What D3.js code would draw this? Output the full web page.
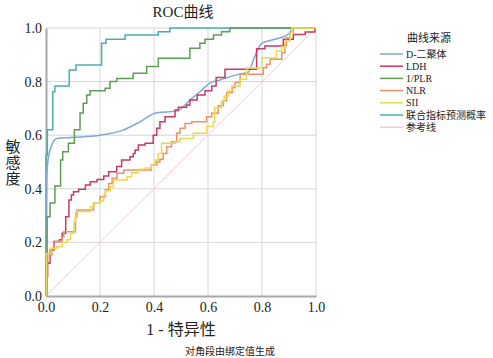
<!DOCTYPE html>
<html>
<head>
  <title>ROC曲线</title>
  <meta http-equiv="Content-Type" content="text/html; charset=UTF-8">
  <script src="https://d3js.org/d3.v7.min.js"></script>
  <style>
    body { margin: 0; background: #fff; }
    text { font-family: "Liberation Serif", "Noto Sans CJK SC", serif; fill: #222; }
    .grid line { stroke: #d6d6d6; stroke-width: 1px; }
    .curve { fill: none; stroke-width: 1.5px; }
  </style>
</head>
<body>
  <div id="chart"></div>
  <script>
    // chart data: [1 - specificity, sensitivity] points
    var seriesNames = ["D-二聚体", "LDH", "1/PLR", "NLR", "SII", "联合指标预测概率", "参考线"];
    var seriesColors = ["#7fa8d8", "#c73a62", "#5f9c58", "#ee9168", "#e6da4e", "#45b1ae", "#f6c8d3"];

    var ddimer = [[0,0],[0.001,0.3],[0.003,0.45],[0.008,0.51],[0.02,0.56],[0.04,0.588],[0.101,0.592],[0.2,0.6],
      [0.286,0.619],[0.348,0.65],[0.41,0.684],[0.484,0.69],[0.533,0.731],[0.57,0.762],[0.607,0.794],[0.644,0.806],
      [0.712,0.827],[0.749,0.835],[0.774,0.896],[0.799,0.943],[0.848,0.958],[0.897,0.976],[0.916,1],[1,1]];

    var ldh = [[0,0],[0.003,0.072],[0.006,0.122],[0.015,0.172],[0.03,0.203],[0.05,0.21],[0.06,0.234],[0.073,0.296],
      [0.085,0.358],[0.094,0.377],[0.102,0.389],[0.121,0.398],[0.146,0.414],[0.164,0.426],[0.189,0.435],[0.214,0.448],
      [0.232,0.464],[0.262,0.483],[0.28,0.507],[0.311,0.52],[0.323,0.532],[0.33,0.545],[0.342,0.563],[0.367,0.57],
      [0.397,0.6],[0.41,0.626],[0.422,0.65],[0.441,0.669],[0.478,0.694],[0.49,0.704],[0.521,0.713],[0.533,0.731],
      [0.56,0.75],[0.589,0.766],[0.614,0.784],[0.63,0.815],[0.663,0.846],[0.78,0.923],[0.811,0.933],[0.879,0.958],
      [0.916,0.976],[0.96,0.985],[0.996,1],[1,1]];

    var plr = [[0,0],[0.004,0.296],[0.015,0.347],[0.033,0.41],[0.054,0.507],[0.062,0.538],[0.083,0.57],[0.105,0.62],
      [0.126,0.683],[0.138,0.719],[0.151,0.75],[0.163,0.766],[0.219,0.775],[0.237,0.8],[0.262,0.812],[0.323,0.831],
      [0.373,0.856],[0.416,0.887],[0.533,0.924],[0.57,0.943],[0.589,0.958],[0.62,0.974],[0.65,0.986],[0.681,1],[1,1]];

    var nlr = [[0,0],[0.003,0.128],[0.012,0.153],[0.022,0.172],[0.028,0.203],[0.059,0.221],[0.066,0.24],[0.109,0.296],
      [0.115,0.321],[0.176,0.346],[0.2,0.37],[0.22,0.396],[0.232,0.42],[0.245,0.439],[0.263,0.458],[0.288,0.47],
      [0.39,0.489],[0.41,0.5],[0.422,0.51],[0.434,0.532],[0.447,0.557],[0.465,0.576],[0.484,0.607],[0.496,0.626],
      [0.515,0.644],[0.54,0.65],[0.595,0.669],[0.614,0.682],[0.638,0.71],[0.657,0.729],[0.669,0.759],[0.69,0.777],
      [0.7,0.797],[0.719,0.827],[0.805,0.852],[0.817,0.865],[0.83,0.883],[0.873,0.908],[0.885,0.933],[0.89,0.964],
      [0.904,0.985],[0.916,1],[1,1]];

    var sii = [[0,0],[0.002,0.159],[0.017,0.178],[0.04,0.184],[0.06,0.2],[0.078,0.21],[0.091,0.234],[0.104,0.277],
      [0.11,0.315],[0.165,0.333],[0.178,0.346],[0.201,0.355],[0.214,0.377],[0.22,0.393],[0.238,0.408],[0.25,0.433],
      [0.3,0.445],[0.317,0.46],[0.342,0.473],[0.367,0.478],[0.39,0.489],[0.404,0.507],[0.416,0.532],[0.428,0.57],
      [0.478,0.576],[0.496,0.588],[0.546,0.607],[0.595,0.632],[0.62,0.65],[0.625,0.703],[0.65,0.728],[0.66,0.746],
      [0.675,0.765],[0.688,0.784],[0.719,0.809],[0.743,0.851],[0.799,0.889],[0.854,0.914],[0.873,0.93],[0.885,0.951],
      [0.904,0.983],[0.91,1],[1,1]];

    var combined = [[0,0],[0,0.526],[0.005,0.62],[0.025,0.762],[0.033,0.784],[0.086,0.843],[0.111,0.862],
      [0.206,0.943],[0.222,0.958],[0.293,0.974],[0.416,0.986],[0.459,1],[1,1]];

    var reference = [[0,0],[1,1]];

    var tickValues = [0, 0.2, 0.4, 0.6, 0.8, 1.0];

    // canvas size and plot box
    var width = 493, height = 358;
    var plot = { left: 46, right: 316, top: 28, bottom: 296 };

    var svg = d3.select("#chart").append("svg")
        .attr("width", width)
        .attr("height", height);

    var x = d3.scaleLinear().domain([0, 1]).range([plot.left, plot.right]);
    var y = d3.scaleLinear().domain([0, 1]).range([plot.bottom, plot.top]);

    // grid lines
    var grid = svg.append("g").attr("class", "grid");
    grid.selectAll(".vx").data(tickValues.slice(1)).enter().append("line")
        .attr("x1", function(d) { return x(d); }).attr("x2", function(d) { return x(d); })
        .attr("y1", y(0)).attr("y2", y(1));
    grid.selectAll(".hy").data(tickValues.slice(1)).enter().append("line")
        .attr("x1", x(0)).attr("x2", x(1))
        .attr("y1", function(d) { return y(d); }).attr("y2", function(d) { return y(d); });

    // axes (labels only, domain drawn as gray lines)
    var xAxis = svg.append("g")
        .attr("transform", "translate(0," + plot.bottom + ")")
        .call(d3.axisBottom(x).tickValues(tickValues).tickFormat(d3.format(".1f")).tickSize(0).tickPadding(6));
    var yAxis = svg.append("g")
        .attr("transform", "translate(" + plot.left + ",0)")
        .call(d3.axisLeft(y).tickValues(tickValues).tickFormat(d3.format(".1f")).tickSize(0).tickPadding(4));
    [xAxis, yAxis].forEach(function(a) {
      a.select(".domain").attr("stroke", "#a8a8a8").attr("stroke-width", 2);
      a.selectAll("text").style("font-size", "14px").attr("fill", "#222")
          .style("font-family", "'Liberation Serif', serif");
    });

    // curves
    var stepLine = d3.line()
        .x(function(d) { return x(d[0]); })
        .y(function(d) { return y(d[1]); })
        .curve(d3.curveStepAfter);
    var smoothLine = d3.line()
        .x(function(d) { return x(d[0]); })
        .y(function(d) { return y(d[1]); })
        .curve(d3.curveMonotoneX);

    svg.append("path").attr("class", "curve").attr("d", stepLine(reference))
        .attr("stroke", seriesColors[6]).style("stroke-width", "1px").attr("d", d3.line().x(function(d) { return x(d[0]); }).y(function(d) { return y(d[1]); })(reference));

    var drawOrder = [
      { data: combined, color: seriesColors[5], gen: stepLine },
      { data: ddimer, color: seriesColors[0], gen: smoothLine },
      { data: ldh, color: seriesColors[1], gen: stepLine },
      { data: plr, color: seriesColors[2], gen: stepLine },
      { data: nlr, color: seriesColors[3], gen: stepLine },
      { data: sii, color: seriesColors[4], gen: stepLine }
    ];
    drawOrder.forEach(function(s) {
      svg.append("path").attr("class", "curve")
          .attr("stroke", s.color)
          .attr("d", s.gen(s.data));
    });

    // titles
    svg.append("text").attr("x", 183).attr("y", 17).attr("text-anchor", "middle")
        .style("font-size", "15px").text("ROC曲线");
    svg.append("text").attr("x", 181).attr("y", 335).attr("text-anchor", "middle")
        .style("font-size", "16px").text("1 - 特异性");
    ["敏", "感", "度"].forEach(function(c, i) {
      svg.append("text").attr("x", 13).attr("y", 152 + i * 16).attr("text-anchor", "middle")
          .style("font-size", "15px").text(c);
    });
    svg.append("text").attr("x", 230).attr("y", 355).attr("text-anchor", "middle")
        .style("font-size", "10px").text("对角段由绑定值生成");

    // legend
    var legend = svg.append("g").attr("transform", "translate(380,0)");
    legend.append("text").attr("x", 49).attr("y", 42).attr("text-anchor", "middle")
        .style("font-size", "11px").text("曲线来源");
    var items = legend.selectAll(".item").data(seriesNames).enter().append("g")
        .attr("transform", function(d, i) { return "translate(0," + (54 + i * 12.2) + ")"; });
    items.append("line").attr("x1", 0).attr("x2", 23).attr("y1", 0).attr("y2", 0)
        .attr("stroke", function(d, i) { return seriesColors[i]; }).attr("stroke-width", 1.5);
    items.append("text").attr("x", 26).attr("y", 3.5)
        .style("font-size", "10px").text(function(d) { return d; });
  </script>
</body>
</html>
